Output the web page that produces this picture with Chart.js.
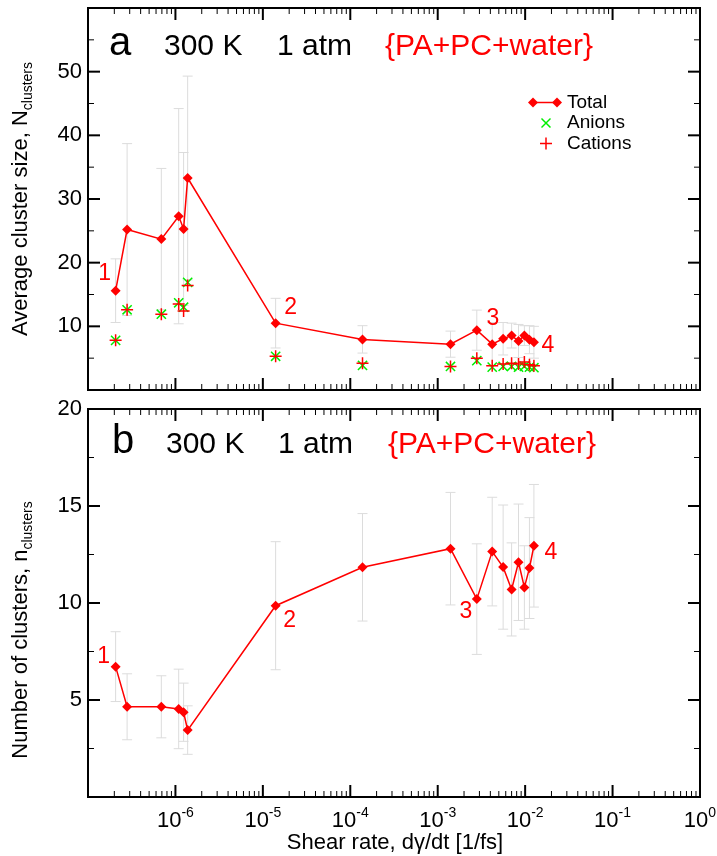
<!DOCTYPE html>
<html>
<head>
<meta charset="utf-8">
<script src="https://cdn.jsdelivr.net/npm/chart.js@4.4.0/dist/chart.umd.min.js"></script>
<style>
  body { margin: 0; background: #fff; }
  #wrap { position: relative; width: 717px; height: 856px; }
  canvas { position: absolute; left: 0; }
</style>
</head>
<body>
<div id="wrap">
  <canvas id="chartA" width="717" height="398" style="top:0px"></canvas>
  <canvas id="chartB" width="717" height="458" style="top:398px"></canvas>
</div>
<script>
// shear rate, 1/fs (same runs in both panels)
const shearRate = [2.07e-7, 2.8e-7, 6.9e-7, 1.09e-6, 1.24e-6, 1.38e-6, 1.4e-5, 1.38e-4,
  1.4e-3, 2.8e-3, 4.2e-3, 5.6e-3, 7.0e-3, 8.4e-3, 9.8e-3, 1.12e-2, 1.26e-2];

// panel a : average cluster size
const sizeTotal    = [15.6, 25.2, 23.7, 27.3, 25.3, 33.3, 10.5, 7.95, 7.2, 9.4, 7.2, 8.05, 8.55, 7.7, 8.55, 7.9, 7.5];
const sizeTotalErr = [5.0, 13.5, 11.1, 16.9, 12.0, 16.0, 3.9, 2.15, 2.05, 3.15, 3.4, 2.55, 1.95, 2.6, 1.55, 2.2, 2.5];
const sizeAnions   = [7.8, 12.6, 11.9, 13.7, 13.0, 16.9, 5.3, 3.85, 3.7, 4.6, 3.6, 3.7, 3.7, 3.6, 3.7, 3.6, 3.5];
const sizeCations  = [7.8, 12.6, 11.9, 13.5, 12.4, 16.4, 5.3, 4.2, 3.7, 5.0, 3.8, 4.1, 4.2, 4.1, 4.4, 3.95, 3.8];

// panel b : number of clusters
const nClusters    = [6.72, 4.65, 4.65, 4.54, 4.37, 3.45, 9.86, 11.84, 12.8, 10.2, 12.65, 11.85, 10.7, 12.1, 10.8, 11.8, 12.95];
const nClustersErr = [1.8, 1.7, 1.6, 2.05, 1.5, 1.25, 3.3, 2.77, 2.9, 2.85, 2.8, 3.2, 2.4, 3.0, 2.15, 2.6, 3.16];

// axis ticks
const xDecades = [-7, -6, -5, -4, -3, -2, -1, 0];
const xTickLabels = [-6, -5, -4, -3, -2, -1, 0];
const yTicksA = [10, 20, 30, 40, 50];
const yTicksB = [5, 10, 15, 20];

// numbered run markers : point index + text
const marksA = [{ i: 0, t: '1', dx: -11, dy: -17 }, { i: 6, t: '2', dx: 15, dy: -15 },
                { i: 9, t: '3', dx: 16, dy: -11 }, { i: 16, t: '4', dx: 14, dy: 3 }];
const marksB = [{ i: 0, t: '1', dx: -12, dy: -10 }, { i: 6, t: '2', dx: 14, dy: 15 },
                { i: 9, t: '3', dx: -11, dy: 13 }, { i: 16, t: '4', dx: 17, dy: 7 }];

const RED = '#ff0000';
const GREEN = '#00ee00';
const FONT = '"Liberation Sans", Arial, Helvetica, sans-serif';

const panels = {
  chartA: {
    errs: sizeTotalErr, yMax: 60, yMajor: 10, yMinor: 5, yTicks: yTicksA, marks: marksA,
    letter: 'a', letterX: 109, textX: [164, 277, 385], textDy: 47,
    yTitle: 'Average cluster size, N', ySub: 'clusters', yTitleC: 199,
    legend: true, xLabels: false
  },
  chartB: {
    errs: nClustersErr, yMax: 20, yMajor: 5, yMinor: 2.5, yTicks: yTicksB, marks: marksB,
    letter: 'b', letterX: 112, textX: [166, 278, 388], textDy: 44,
    yTitle: 'Number of clusters, n', ySub: 'clusters', yTitleC: 232,
    legend: false, xLabels: true
  }
};

function line(ctx, x1, y1, x2, y2) {
  ctx.beginPath();
  ctx.moveTo(x1, y1);
  ctx.lineTo(x2, y2);
  ctx.stroke();
}

function diamond(ctx, x, y, r) {
  ctx.beginPath();
  ctx.moveTo(x, y - r); ctx.lineTo(x + r, y); ctx.lineTo(x, y + r); ctx.lineTo(x - r, y);
  ctx.closePath();
  ctx.fill();
}

const panelPlugin = {
  id: 'panel',
  beforeDatasetsDraw(chart) {
    const p = panels[chart.canvas.id];
    const { ctx, scales: { x, y } } = chart;
    const meta = chart.getDatasetMeta(0);
    ctx.save();
    ctx.strokeStyle = '#dcdcdc';
    ctx.lineWidth = 1;
    meta.data.forEach((pt, i) => {
      const v = chart.data.datasets[0].data[i].y;
      const px = x.getPixelForValue(shearRate[i]);
      const top = y.getPixelForValue(v + p.errs[i]);
      const bot = y.getPixelForValue(v - p.errs[i]);
      line(ctx, px, top, px, bot);
      line(ctx, px - 5, top, px + 5, top);
      line(ctx, px - 5, bot, px + 5, bot);
    });
    ctx.restore();
  },
  afterDraw(chart) {
    const p = panels[chart.canvas.id];
    const { ctx, chartArea: a, scales: { x, y } } = chart;
    ctx.save();

    // frame
    ctx.strokeStyle = '#000';
    ctx.lineWidth = 2;
    ctx.strokeRect(a.left, a.top, a.right - a.left, a.bottom - a.top);

    // x ticks, inward on top and bottom
    xDecades.forEach(d => {
      const px = x.getPixelForValue(Math.pow(10, d));
      ctx.lineWidth = 2;
      line(ctx, px, a.bottom, px, a.bottom - 12);
      line(ctx, px, a.top, px, a.top + 12);
      if (d < 0) {
        ctx.lineWidth = 1;
        for (let k = 2; k <= 9; k++) {
          const mx = x.getPixelForValue(k * Math.pow(10, d));
          line(ctx, mx, a.bottom, mx, a.bottom - 6);
          line(ctx, mx, a.top, mx, a.top + 6);
        }
      }
    });

    // y ticks, inward on left and right
    for (let v = p.yMinor; v < p.yMax; v += p.yMinor) {
      const py = y.getPixelForValue(v);
      const major = Math.abs(v / p.yMajor - Math.round(v / p.yMajor)) < 1e-6;
      const len = major ? 12 : 6;
      ctx.lineWidth = major ? 2 : 1;
      line(ctx, a.left, py, a.left + len, py);
      line(ctx, a.right, py, a.right - len, py);
    }

    // y tick labels
    ctx.fillStyle = '#000';
    ctx.font = '22px ' + FONT;
    ctx.textAlign = 'right';
    ctx.textBaseline = 'middle';
    p.yTicks.forEach(v => ctx.fillText(String(v), a.left - 6, y.getPixelForValue(v)));

    // x tick labels 10^n
    if (p.xLabels) {
      xTickLabels.forEach(d => {
        const px = x.getPixelForValue(Math.pow(10, d));
        ctx.font = '22px ' + FONT;
        const w1 = ctx.measureText('10').width;
        ctx.font = '14px ' + FONT;
        const sup = String(d);
        const w2 = ctx.measureText(sup).width;
        const left = px - (w1 + w2) / 2;
        ctx.textAlign = 'left';
        ctx.textBaseline = 'alphabetic';
        ctx.font = '22px ' + FONT;
        ctx.fillText('10', left, a.bottom + 30);
        ctx.font = '14px ' + FONT;
        ctx.fillText(sup, left + w1, a.bottom + 20);
      });
      ctx.font = '22px ' + FONT;
      ctx.textAlign = 'center';
      ctx.fillText('Shear rate, d\u03b3/dt [1/fs]', 395, a.bottom + 52);
    }

    // y title with subscript
    ctx.save();
    ctx.translate(27, p.yTitleC);
    ctx.rotate(-Math.PI / 2);
    ctx.font = '22px ' + FONT;
    const tw = ctx.measureText(p.yTitle).width;
    ctx.font = '14px ' + FONT;
    const sw = ctx.measureText(p.ySub).width;
    ctx.textAlign = 'left';
    ctx.textBaseline = 'alphabetic';
    ctx.font = '22px ' + FONT;
    ctx.fillText(p.yTitle, -(tw + sw) / 2, 0);
    ctx.font = '14px ' + FONT;
    ctx.fillText(p.ySub, -(tw + sw) / 2 + tw, 5);
    ctx.restore();

    // panel header
    const by = a.top + p.textDy;
    ctx.textAlign = 'left';
    ctx.textBaseline = 'alphabetic';
    ctx.fillStyle = '#000';
    ctx.font = '40px ' + FONT;
    ctx.fillText(p.letter, p.letterX, by);
    ctx.font = '30px ' + FONT;
    ctx.fillText('300 K', p.textX[0], by);
    ctx.fillText('1 atm', p.textX[1], by);
    ctx.fillStyle = RED;
    ctx.fillText('{PA+PC+water}', p.textX[2], by);

    // numbered markers
    ctx.font = '23px ' + FONT;
    ctx.textAlign = 'center';
    ctx.textBaseline = 'middle';
    const ds = chart.data.datasets[0].data;
    p.marks.forEach(m => {
      const px = x.getPixelForValue(ds[m.i].x);
      const py = y.getPixelForValue(ds[m.i].y);
      ctx.fillText(m.t, px + m.dx, py + m.dy);
    });

    // legend
    if (p.legend) {
      ctx.strokeStyle = RED;
      ctx.fillStyle = RED;
      ctx.lineWidth = 1.5;
      line(ctx, 533, 102.5, 557, 102.5);
      diamond(ctx, 533, 102.5, 5);
      diamond(ctx, 557, 102.5, 5);
      ctx.strokeStyle = GREEN;
      line(ctx, 541.5, 118.5, 550.5, 127.5);
      line(ctx, 541.5, 127.5, 550.5, 118.5);
      ctx.strokeStyle = RED;
      line(ctx, 540, 143.5, 552, 143.5);
      line(ctx, 546, 137.5, 546, 149.5);
      ctx.fillStyle = '#000';
      ctx.font = '19px ' + FONT;
      ctx.textAlign = 'left';
      ctx.textBaseline = 'middle';
      ctx.fillText('Total', 567, 102.5);
      ctx.fillText('Anions', 567, 123);
      ctx.fillText('Cations', 567, 143.5);
    }
    ctx.restore();
  }
};

function pts(ys) {
  return shearRate.map((v, i) => ({ x: v, y: ys[i] }));
}

function totalSet(label, ys) {
  return {
    label: label, data: pts(ys), order: 0,
    borderColor: RED, backgroundColor: RED, borderWidth: 1.5,
    pointStyle: 'rectRot', pointRadius: 5, pointBorderWidth: 0, tension: 0
  };
}

function makeChart(id, datasets, yMax, pad) {
  return new Chart(document.getElementById(id), {
    type: 'line',
    data: { datasets: datasets },
    options: {
      responsive: false,
      animation: false,
      devicePixelRatio: 1,
      layout: { padding: pad },
      plugins: { legend: { display: false }, tooltip: { enabled: false } },
      scales: {
        x: { type: 'logarithmic', min: 1e-7, max: 1, display: false },
        y: { type: 'linear', min: 0, max: yMax, display: false }
      }
    },
    plugins: [panelPlugin]
  });
}

makeChart('chartA', [
  totalSet('Total', sizeTotal),
  { label: 'Cations', data: pts(sizeCations), order: 1, showLine: false,
    borderColor: RED, backgroundColor: RED, pointStyle: 'cross', pointRadius: 6, pointBorderWidth: 1.5 },
  { label: 'Anions', data: pts(sizeAnions), order: 2, showLine: false,
    borderColor: GREEN, backgroundColor: GREEN, pointStyle: 'crossRot', pointRadius: 6.5, pointBorderWidth: 1.5 }
], 60, { left: 88, right: 17, top: 5, bottom: 3 });

makeChart('chartB', [
  totalSet('Clusters', nClusters)
], 20, { left: 88, right: 17, top: 11, bottom: 59 });
</script>
</body>
</html>
